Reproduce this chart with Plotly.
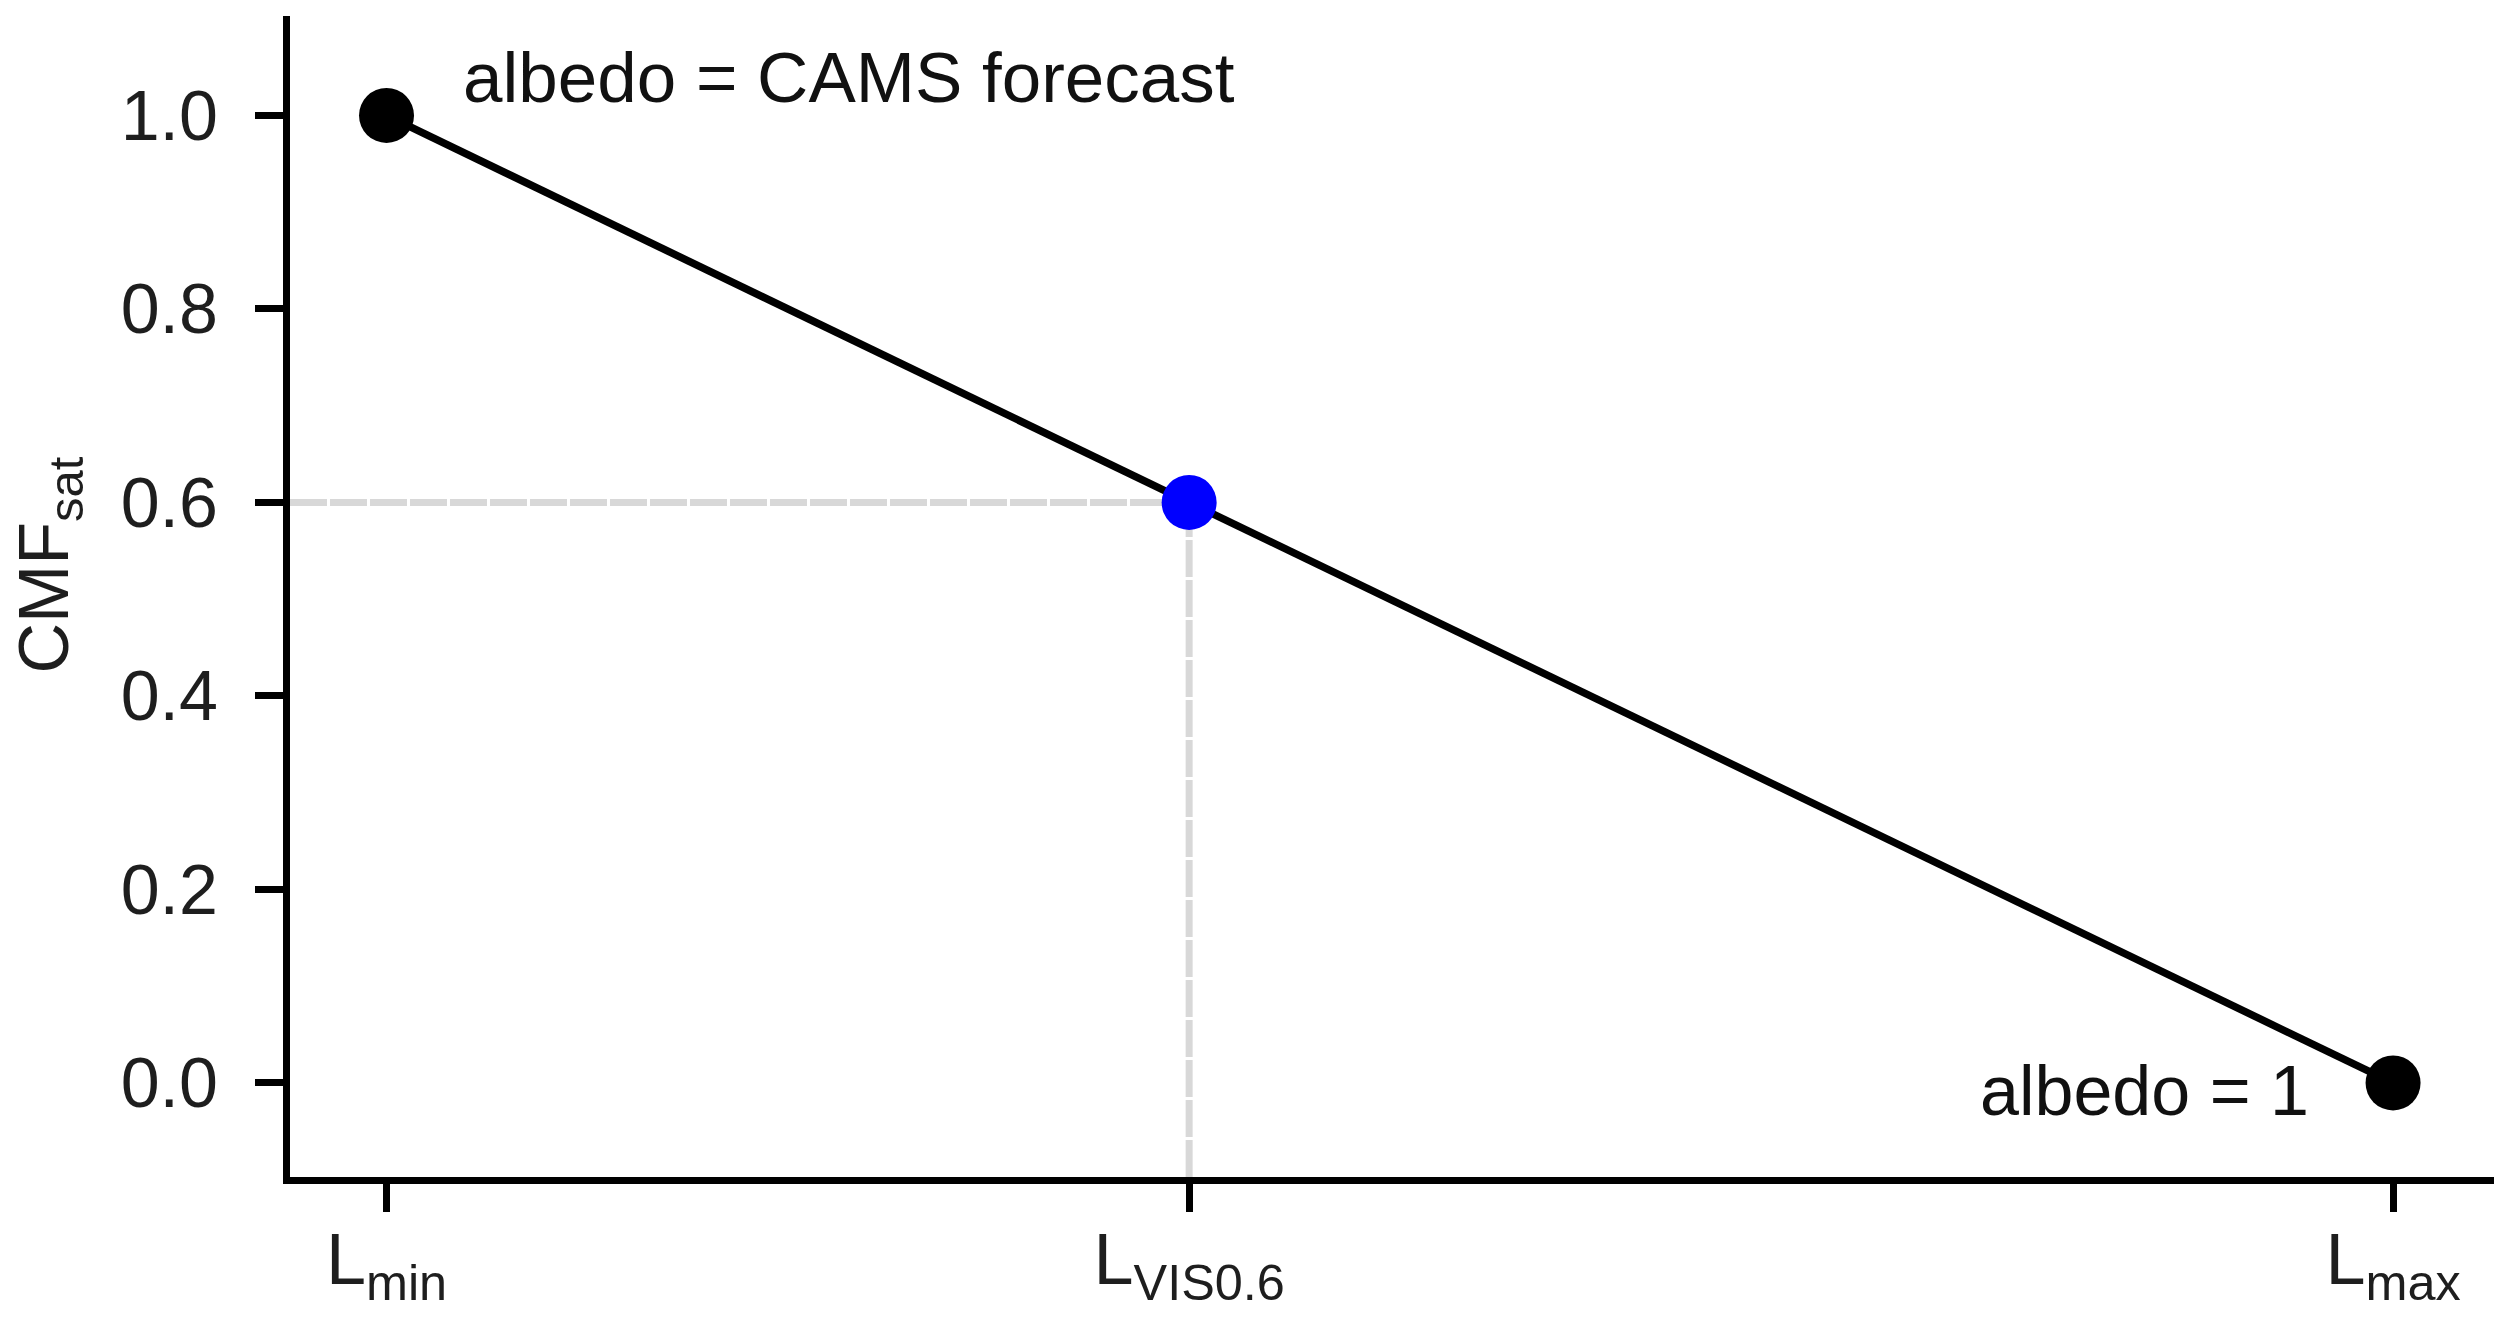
import plotly.graph_objects as go

# ---- data ----
x_tick_labels = ["L<sub>min</sub>", "L<sub>VIS0.6</sub>", "L<sub>max</sub>"]
x_vals = [0.0, 0.4, 1.0]
cmf_vals = [1.0, 0.6, 0.0]
y_ticks = [0.0, 0.2, 0.4, 0.6, 0.8, 1.0]
x_range = [-0.0481, 1.0503]
y_range = [-0.0972, 1.1028]
ann_top = "albedo = CAMS forecast"
ann_bottom = "albedo = 1"
y_title = "CMF<sub>sat</sub>"

FONT = "Liberation Sans, Arial, sans-serif"
TXT = "#1e1e1e"
fig = go.Figure()

# dashed guide lines to the highlighted point
fig.add_trace(go.Scatter(
    x=[x_range[0], x_vals[1]], y=[cmf_vals[1], cmf_vals[1]], mode="lines",
    line=dict(color="#d8d8d8", width=7, dash="37px,3px"), hoverinfo="skip", showlegend=False))
fig.add_trace(go.Scatter(
    x=[x_vals[1], x_vals[1]], y=[y_range[0], cmf_vals[1]], mode="lines",
    line=dict(color="#d8d8d8", width=7, dash="37px,3px"), hoverinfo="skip", showlegend=False))

# main line
fig.add_trace(go.Scatter(
    x=x_vals, y=cmf_vals, mode="lines",
    line=dict(color="black", width=7.5), showlegend=False))
# end points
fig.add_trace(go.Scatter(
    x=[x_vals[0], x_vals[2]], y=[cmf_vals[0], cmf_vals[2]], mode="markers",
    marker=dict(color="black", size=55), showlegend=False))
# highlighted point
fig.add_trace(go.Scatter(
    x=[x_vals[1]], y=[cmf_vals[1]], mode="markers",
    marker=dict(color="#0000ff", size=55), showlegend=False))

fig.add_annotation(x=0.037, y=1.039, xref="x", yref="y", text=ann_top, showarrow=False,
                   xanchor="left", yanchor="middle", font=dict(family=FONT, size=71, color="#111111"))
fig.add_annotation(x=0.959, y=-0.008, xref="x", yref="y", text=ann_bottom, showarrow=False,
                   xanchor="right", yanchor="middle", font=dict(family=FONT, size=70, color="#111111"))

# y-axis title
fig.add_annotation(x=0, y=0.5266, xref="paper", yref="paper", xshift=-241, text=y_title,
                   textangle=-90, showarrow=False, xanchor="center", yanchor="middle",
                   font=dict(family=FONT, size=70, color=TXT))

# page body has an 8px margin, so the figure is 8px smaller and margins reduced accordingly
fig.update_layout(
    width=2504, height=1311,
    margin=dict(l=282, r=18, t=8, b=142),
    paper_bgcolor="white", plot_bgcolor="white",
    font=dict(family=FONT, color=TXT),
    xaxis=dict(
        range=x_range, tickmode="array", tickvals=x_vals, ticktext=x_tick_labels,
        showgrid=False, zeroline=False, showline=True, linecolor="black", linewidth=7,
        ticks="outside", ticklen=28, tickwidth=7, tickcolor="black", automargin=False,
        tickfont=dict(family=FONT, size=72, color=TXT), ticklabelstandoff=-14,
    ),
    yaxis=dict(
        range=y_range, tickmode="array", tickvals=y_ticks, tickformat=".1f",
        showgrid=False, zeroline=False, showline=True, linecolor="black", linewidth=7,
        ticks="outside", ticklen=28, tickwidth=7, tickcolor="black", automargin=False,
        tickfont=dict(family=FONT, size=70, color=TXT), ticklabelstandoff=23,
    ),
)

fig.write_html("out.html")
